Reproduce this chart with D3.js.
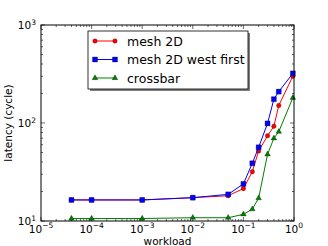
<!DOCTYPE html>
<html>
<head>
<meta charset="utf-8">
<script src="https://cdn.jsdelivr.net/npm/d3@7"></script>
<style>
  body { margin: 0; background: white; }
  text { font-family: "DejaVu Sans", sans-serif; }
</style>
</head>
<body>
<div id="chart"></div>
<script>
// workload values (x) shared by all series
const workload = [4e-5, 1e-4, 1e-3, 1e-2, 5e-2, 0.1, 0.15, 0.2, 0.3, 0.4, 0.5, 0.95];
const mesh2D = [16.4, 16.4, 16.4, 17.3, 18.1, 21.4, 31.8, 51.8, 74, 92.5, 151, 300];
const mesh2DWestFirst = [16.4, 16.4, 16.4, 17.3, 18.7, 23.9, 38.8, 56.5, 99, 175, 209, 321];
const crossbar = [10.6, 10.6, 10.6, 10.8, 10.8, 11.7, 13.2, 17.1, 47.9, 69.8, 81.5, 181];
const seriesNames = ["mesh 2D", "mesh 2D west first", "crossbar"];
const xTickExps = [-5, -4, -3, -2, -1, 0];
const yTickExps = [1, 2, 3];

const W = 328, H = 246;
const margin = { top: 25, right: 34, bottom: 25, left: 41 };
const width = W - margin.left - margin.right,
  height = H - margin.top - margin.bottom;

const svg = d3
  .select("#chart")
  .append("svg")
  .attr("width", W)
  .attr("height", H);

const g = svg
  .append("g")
  .attr("transform", `translate(${margin.left},${margin.top})`);

const x = d3.scaleLog().domain([1e-5, 1]).range([0, width]);
const y = d3.scaleLog().domain([10, 1000]).range([height, 0]);

// minor ticks 2..9 in each decade
const xMinor = [];
for (let e = -5; e < 0; e++) for (let m = 2; m <= 9; m++) xMinor.push(m * Math.pow(10, e));
const yMinor = [];
for (let e = 1; e < 3; e++) for (let m = 2; m <= 9; m++) yMinor.push(m * Math.pow(10, e));
const xMajor = xTickExps.map((e) => Math.pow(10, e));
const yMajor = yTickExps.map((e) => Math.pow(10, e));

// ticks point inward on all four sides (matplotlib classic look)
const tickG = g.append("g").attr("stroke", "black").attr("stroke-width", 0.6);
[[xMajor, 4], [xMinor, 2]].forEach(([vals, len]) => {
  vals.forEach((v) => {
    tickG.append("line").attr("x1", x(v)).attr("x2", x(v)).attr("y1", height).attr("y2", height - len);
    tickG.append("line").attr("x1", x(v)).attr("x2", x(v)).attr("y1", 0).attr("y2", len);
  });
});
[[yMajor, 4], [yMinor, 2]].forEach(([vals, len]) => {
  vals.forEach((v) => {
    tickG.append("line").attr("y1", y(v)).attr("y2", y(v)).attr("x1", 0).attr("x2", len);
    tickG.append("line").attr("y1", y(v)).attr("y2", y(v)).attr("x1", width).attr("x2", width - len);
  });
});

// tick labels as 10 with superscript
xTickExps.forEach((e) => {
  const t = g
    .append("text")
    .attr("x", x(Math.pow(10, e)))
    .attr("y", height + 11.5)
    .attr("text-anchor", "middle")
    .attr("font-size", 10.5);
  t.append("tspan").text("10");
  t.append("tspan").attr("dy", -4.5).attr("font-size", 7.5).text(String(e).replace("-", "\u2212"));
});
yTickExps.forEach((e) => {
  const t = g
    .append("text")
    .attr("x", -5)
    .attr("y", y(Math.pow(10, e)) + 4)
    .attr("text-anchor", "end")
    .attr("font-size", 10.5);
  t.append("tspan").text("10");
  t.append("tspan").attr("dy", -4.5).attr("font-size", 7.5).text(e);
});

// axis titles
svg
  .append("text")
  .attr("x", margin.left + width / 2)
  .attr("y", H - 1)
  .attr("text-anchor", "middle")
  .attr("font-size", 10.5)
  .text("workload");
svg
  .append("text")
  .attr("transform", `translate(12,${margin.top + height / 2}) rotate(-90)`)
  .attr("text-anchor", "middle")
  .attr("font-size", 10.5)
  .text("latency (cycle)");

const series = [
  { name: seriesNames[0], values: mesh2D, color: "#ff0000", marker: "circle" },
  { name: seriesNames[1], values: mesh2DWestFirst, color: "#0000ff", marker: "square" },
  { name: seriesNames[2], values: crossbar, color: "#008000", marker: "triangle" },
];

const symbolFor = (m) =>
  m === "circle"
    ? d3.symbol().type(d3.symbolCircle).size(16)
    : m === "square"
    ? d3.symbol().type(d3.symbolSquare).size(25)
    : d3.symbol().type(d3.symbolTriangle).size(14);

const line = d3
  .line()
  .x((d) => x(d[0]))
  .y((d) => y(d[1]));

series.forEach((s) => {
  const pts = workload.map((w, i) => [w, s.values[i]]);
  g.append("path")
    .datum(pts)
    .attr("fill", "none")
    .attr("stroke", s.color)
    .attr("stroke-width", 1)
    .attr("d", line);
  g.selectAll(null)
    .data(pts)
    .enter()
    .append("path")
    .attr("transform", (d) => `translate(${x(d[0])},${y(d[1])})`)
    .attr("d", symbolFor(s.marker)())
    .attr("fill", s.color)
    .attr("stroke", "black")
    .attr("stroke-width", 0.3);
});

// axes frame
g.append("rect")
  .attr("width", width)
  .attr("height", height)
  .attr("fill", "none")
  .attr("stroke", "black")
  .attr("stroke-width", 1);

// legend with drop shadow
const lg = svg.append("g").attr("transform", "translate(88,31)");
lg.append("rect").attr("x", 2).attr("y", 2).attr("width", 160).attr("height", 58).attr("fill", "#7f7f7f");
lg.append("rect").attr("width", 160).attr("height", 58).attr("fill", "white").attr("stroke", "black").attr("stroke-width", 0.8);
series.forEach((s, i) => {
  const yy = 10 + i * 18.5;
  lg.append("line").attr("x1", 7).attr("x2", 27).attr("y1", yy).attr("y2", yy).attr("stroke", s.color).attr("stroke-width", 1);
  [7, 27].forEach((xx) => {
    lg.append("path")
      .attr("transform", `translate(${xx},${yy})`)
      .attr("d", symbolFor(s.marker)())
      .attr("fill", s.color)
      .attr("stroke", "black")
      .attr("stroke-width", 0.3);
  });
  lg.append("text").attr("x", 39).attr("y", yy + 4.5).attr("font-size", 12.5).text(s.name);
});
</script>
</body>
</html>
